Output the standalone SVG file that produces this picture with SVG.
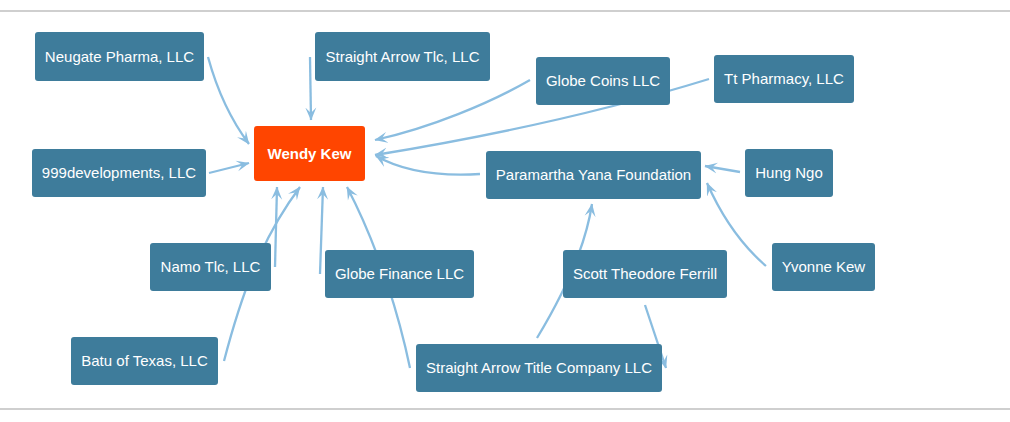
<svg xmlns="http://www.w3.org/2000/svg" width="1010" height="422" viewBox="0 0 1010 422">
<style>
.node rect{fill:#3e7c9b}
.node text{fill:#ffffff;font-family:"Liberation Sans",Arial,sans-serif;font-size:15px;text-anchor:middle}
#n-wendy rect{fill:#ff4500}
#n-wendy text{font-weight:bold}
.edge{fill:none;stroke:#8abde0;stroke-width:2.3}
.rule{stroke:#cfcfcf;stroke-width:2}
</style>
<defs>
<marker id="arr" viewBox="0 0 13 12" refX="12.5" refY="6" markerWidth="13" markerHeight="12" markerUnits="userSpaceOnUse" orient="auto">
<path d="M0,0.5 L13,6 L0,11.5 L5.5,6 Z" fill="#8abde0"/>
</marker>
</defs>
<rect width="1010" height="422" fill="#ffffff"/>
<line class="rule" x1="0" y1="11" x2="1010" y2="11"/>
<line class="rule" x1="0" y1="409" x2="1010" y2="409"/>
<g id="connectors">
<path class="edge" marker-end="url(#arr)" d="M208,57 Q222,108 249,144"/>
<path class="edge" marker-end="url(#arr)" d="M310,57 L311,120"/>
<path class="edge" marker-end="url(#arr)" d="M209,173 L249,163"/>
<path class="edge" marker-end="url(#arr)" d="M530,80 C490,103 430,128 375,140"/>
<path class="edge" marker-end="url(#arr)" d="M709,79 Q560,125 375,155"/>
<path class="edge" marker-end="url(#arr)" d="M480,174 Q415,178 376,156"/>
<path class="edge" marker-end="url(#arr)" d="M740,172 L705,166"/>
<path class="edge" marker-end="url(#arr)" d="M766,266 Q730,235 707,183"/>
<path class="edge" marker-end="url(#arr)" d="M537,338 C560,300 585,250 592,204"/>
<path class="edge" marker-end="url(#arr)" d="M645,305 L666,368"/>
<path class="edge" marker-end="url(#arr)" d="M275,267 L277,187"/>
<path class="edge" marker-end="url(#arr)" d="M224,361 C240,300 260,240 300,187"/>
<path class="edge" marker-end="url(#arr)" d="M320,274 L323,187"/>
<path class="edge" marker-end="url(#arr)" d="M410,368 C400,320 380,250 347,187"/>
</g>
<g id="n-neugate" class="node"><rect x="35" y="32" width="169" height="49" rx="3"/><text x="119.5" y="62">Neugate Pharma, LLC</text></g>
<g id="n-satlc" class="node"><rect x="315" y="32" width="175" height="49" rx="3"/><text x="402.5" y="62">Straight Arrow Tlc, LLC</text></g>
<g id="n-wendy" class="node"><rect x="254" y="126" width="111" height="55" rx="3"/><text x="309.5" y="159">Wendy Kew</text></g>
<g id="n-999" class="node"><rect x="32" y="149" width="174" height="48" rx="3"/><text x="119" y="178">999developments, LLC</text></g>
<g id="n-globecoins" class="node"><rect x="536" y="57" width="134" height="48" rx="3"/><text x="603" y="86">Globe Coins LLC</text></g>
<g id="n-ttpharm" class="node"><rect x="714" y="55" width="140" height="48" rx="3"/><text x="784" y="84">Tt Pharmacy, LLC</text></g>
<g id="n-paramartha" class="node"><rect x="486" y="151" width="215" height="48" rx="3"/><text x="593.5" y="180">Paramartha Yana Foundation</text></g>
<g id="n-hung" class="node"><rect x="745" y="149" width="88" height="48" rx="3"/><text x="789" y="178">Hung Ngo</text></g>
<g id="n-namo" class="node"><rect x="150" y="243" width="121" height="48" rx="3"/><text x="210.5" y="272">Namo Tlc, LLC</text></g>
<g id="n-globefin" class="node"><rect x="325" y="250" width="149" height="48" rx="3"/><text x="399.5" y="279">Globe Finance LLC</text></g>
<g id="n-batu" class="node"><rect x="71" y="337" width="147" height="48" rx="3"/><text x="144.5" y="366">Batu of Texas, LLC</text></g>
<g id="n-satc" class="node"><rect x="416" y="344" width="246" height="48" rx="3"/><text x="539" y="373">Straight Arrow Title Company LLC</text></g>
<g id="n-scott" class="node"><rect x="563" y="250" width="164" height="48" rx="3"/><text x="645" y="279">Scott Theodore Ferrill</text></g>
<g id="n-yvonne" class="node"><rect x="772" y="243" width="103" height="48" rx="3"/><text x="823.5" y="272">Yvonne Kew</text></g>
</svg>
